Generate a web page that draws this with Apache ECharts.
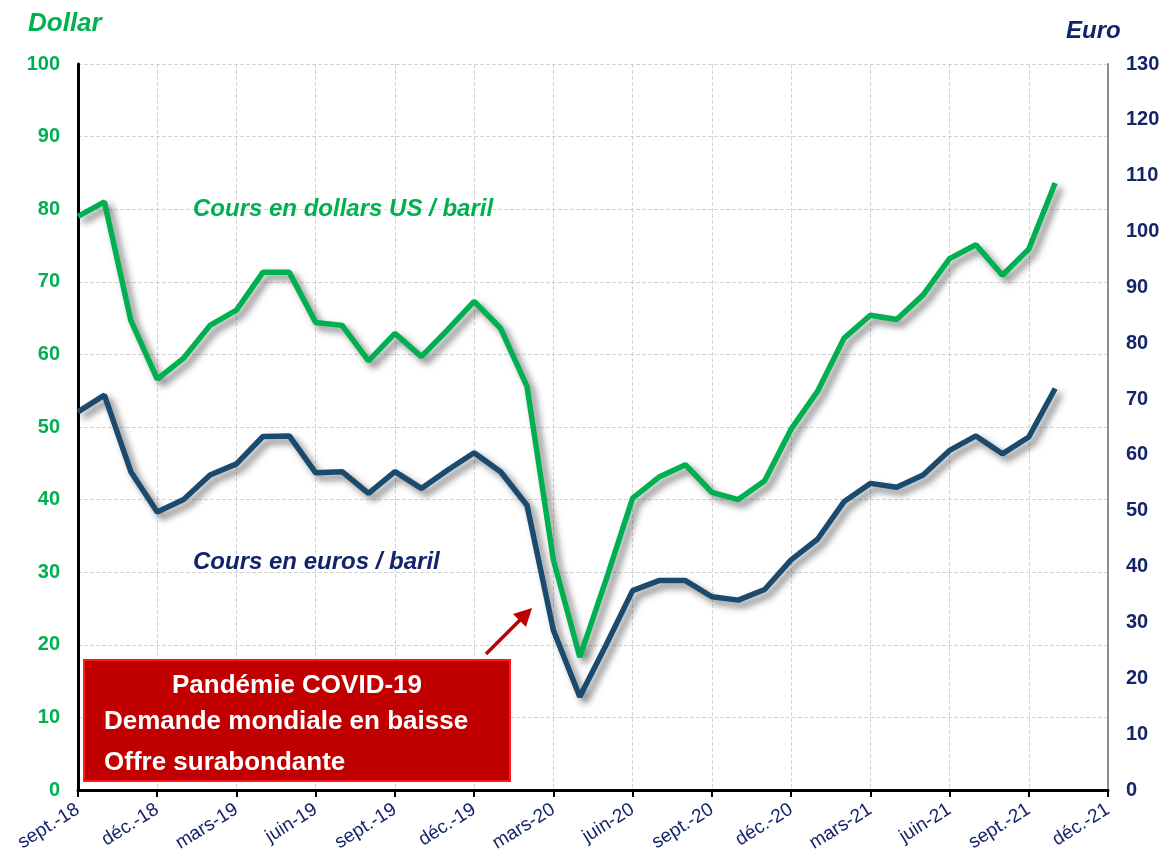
<!DOCTYPE html>
<html>
<head>
<meta charset="utf-8">
<script src="https://cdn.jsdelivr.net/npm/echarts@6/dist/echarts.min.js"></script>
<style>
  html, body { margin: 0; padding: 0; background: #fff; }
  #chart { width: 1173px; height: 861px; }
</style>
</head>
<body>
<div id="chart"></div>
<script>
// mois (sept.-18 -> déc.-21)
const months = [
  "sept.-18", "oct.-18", "nov.-18", "déc.-18",
  "janv.-19", "févr.-19", "mars-19", "avr.-19", "mai-19", "juin-19",
  "juil.-19", "août-19", "sept.-19", "oct.-19", "nov.-19", "déc.-19",
  "janv.-20", "févr.-20", "mars-20", "avr.-20", "mai-20", "juin-20",
  "juil.-20", "août-20", "sept.-20", "oct.-20", "nov.-20", "déc.-20",
  "janv.-21", "févr.-21", "mars-21", "avr.-21", "mai-21", "juin-21",
  "juil.-21", "août-21", "sept.-21", "oct.-21", "nov.-21", "déc.-21"
];

// cours en dollars US / baril
const dollar = [79.0, 81.0, 64.7, 56.6, 59.5, 64.0, 66.1, 71.3, 71.3, 64.4,
  64.0, 59.1, 62.9, 59.7, 63.4, 67.3, 63.6, 55.6, 31.7, 18.3,
  29.0, 40.2, 43.1, 44.8, 41.0, 40.0, 42.6, 49.7, 54.9, 62.2,
  65.4, 64.8, 68.2, 73.2, 75.1, 70.9, 74.5, 83.6];

// cours en euros / baril
const euro = [67.7, 70.7, 57.0, 49.8, 52.0, 56.4, 58.4, 63.3, 63.4, 56.8,
  57.0, 53.1, 57.0, 54.0, 57.3, 60.4, 57.0, 51.0, 28.6, 16.7,
  26.0, 35.7, 37.5, 37.5, 34.6, 34.0, 35.9, 41.2, 44.9, 51.6,
  54.9, 54.2, 56.4, 60.8, 63.4, 60.2, 63.2, 71.9];

const green = "#00B050";
const navy = "#1A4A6E";
const navyText = "#14246B";
const font = "Arial, 'Liberation Sans', sans-serif";

var myChart = echarts.init(document.getElementById("chart"));

var shadow = {
  shadowColor: "rgba(0,0,0,0.5)",
  shadowBlur: 7,
  shadowOffsetX: 5,
  shadowOffsetY: 5
};

var option = {
  animation: false,
  grid: { left: 78, right: 65, top: 64, bottom: 71 },
  xAxis: {
    type: "category",
    data: months,
    boundaryGap: false,
    axisLine: { lineStyle: { color: "#000", width: 3 } },
    axisTick: { interval: 2, length: 7, lineStyle: { color: "#000", width: 2 } },
    axisLabel: {
      interval: 2,
      rotate: 32,
      margin: 18,
      fontFamily: font,
      fontSize: 19,
      color: navyText
    },
    splitLine: {
      show: true,
      interval: 2,
      lineStyle: { color: "#D4D4D4", type: [4, 2], width: 1 }
    }
  },
  yAxis: [{
    type: "value",
    min: 0, max: 100, interval: 10,
    axisLine: { show: true, lineStyle: { color: "#000", width: 3 } },
    axisTick: { show: false },
    axisLabel: {
      margin: 18,
      fontFamily: font, fontSize: 20, fontWeight: "bold", color: green
    },
    splitLine: { lineStyle: { color: "#D4D4D4", type: [4, 2], width: 1 } }
  }, {
    type: "value",
    min: 0, max: 130, interval: 10,
    position: "right",
    axisLine: { show: true, lineStyle: { color: "#8C8C8C", width: 2 } },
    axisTick: { show: false },
    axisLabel: {
      margin: 18,
      fontFamily: font, fontSize: 20, fontWeight: "bold", color: navyText
    },
    splitLine: { show: false }
  }],
  series: [{
    name: "Cours en euros / baril",
    type: "line",
    yAxisIndex: 1,
    data: euro,
    symbol: "none",
    lineStyle: Object.assign({ color: navy, width: 5.5 }, shadow)
  }, {
    name: "Cours en dollars US / baril",
    type: "line",
    yAxisIndex: 0,
    data: dollar,
    symbol: "none",
    lineStyle: Object.assign({ color: green, width: 5.5 }, shadow)
  }],
  graphic: [
    { type: "text", left: 28, top: 11, z: 100,
      style: { text: "Dollar", fill: green, font: "italic bold 26px " + font } },
    { type: "text", left: 1066, top: 19, z: 100,
      style: { text: "Euro", fill: navyText, font: "italic bold 24px " + font } },
    { type: "text", left: 193, top: 197, z: 100,
      style: { text: "Cours en dollars US / baril", fill: green, font: "italic bold 24px " + font } },
    { type: "text", left: 193, top: 550, z: 100,
      style: { text: "Cours en euros / baril", fill: navyText, font: "italic bold 24px " + font } },
    // flèche
    { type: "line", z: 100, shape: { x1: 486, y1: 654, x2: 524, y2: 616 },
      style: { stroke: "#C00000", lineWidth: 3.5 } },
    { type: "polygon", z: 100, shape: { points: [[532, 608], [513, 614], [526, 627]] },
      style: { fill: "#C00000" } },
    // encadré
    { type: "rect", z: 100, shape: { x: 84, y: 660, width: 426, height: 121 },
      style: { fill: "#C00000", stroke: "#FF1A1A", lineWidth: 2 } },
    { type: "text", x: 297, y: 686, z: 101,
      style: { text: "Pandémie COVID-19", fill: "#fff", align: "center", verticalAlign: "middle", font: "bold 26px " + font } },
    { type: "text", x: 104, y: 722, z: 101,
      style: { text: "Demande mondiale en baisse", fill: "#fff", verticalAlign: "middle", font: "bold 26px " + font } },
    { type: "text", x: 104, y: 763, z: 101,
      style: { text: "Offre surabondante", fill: "#fff", verticalAlign: "middle", font: "bold 26px " + font } }
  ]
};

myChart.setOption(option);
</script>
</body>
</html>
